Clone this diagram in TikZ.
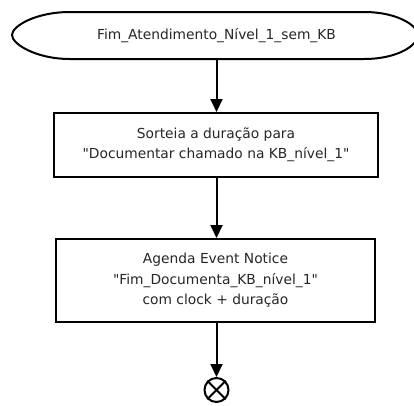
\documentclass[tikz,border=0pt]{standalone}
\usepackage{fontspec}
\newfontfamily\dvsans{DejaVu Sans}
\usetikzlibrary{arrows.meta}
\begin{document}
\begin{tikzpicture}[x=1pt,y=-1pt,
  line width=2pt,
  txt/.style={font=\dvsans\fontsize{13.8}{20.5}\selectfont, align=center, text=black!85},
  procbox/.style={draw, rectangle, inner sep=0pt, txt},
  flow/.style={-{Triangle[width=12pt,length=13pt]}, line width=2pt}]
\useasboundingbox (0,0) rectangle (414,405);
% terminal shape
\draw (70,12) -- (364,12)
  .. controls (398,12) and (418,26) .. (418,35)
  .. controls (418,45) and (398,59) .. (364,59)
  -- (70,59)
  .. controls (36,59) and (12,44) .. (12,35)
  .. controls (12,26) and (36,12) .. (70,12) -- cycle;
\node[txt, minimum width=404pt, minimum height=47pt, inner sep=0pt] (start) at (216.5,35.5) {Fim\_Atendimento\_Nível\_1\_sem\_KB};
\node[procbox, minimum width=324pt, minimum height=64pt] (b1) at (216,145)
  {Sorteia a duração para\\"Documentar chamado na KB\_nível\_1"};
\node[procbox, minimum width=319pt, minimum height=83pt] (b2) at (215.5,280.5)
  {Agenda Event Notice\\"Fim\_Documenta\_KB\_nível\_1"\\com clock + duração};
\node[draw, circle, minimum size=24pt, inner sep=0pt, line width=2pt] (end) at (216.5,390) {};
\draw[line width=2pt] (end.north west) -- (end.south east) (end.north east) -- (end.south west);
\draw[flow] (start.south -| end.north) -- (b1.north -| end.north);
\draw[flow] (b1.south -| end.north) -- (b2.north -| end.north);
\draw[flow] (b2.south -| end.north) -- (end.north);
\end{tikzpicture}
\end{document}
